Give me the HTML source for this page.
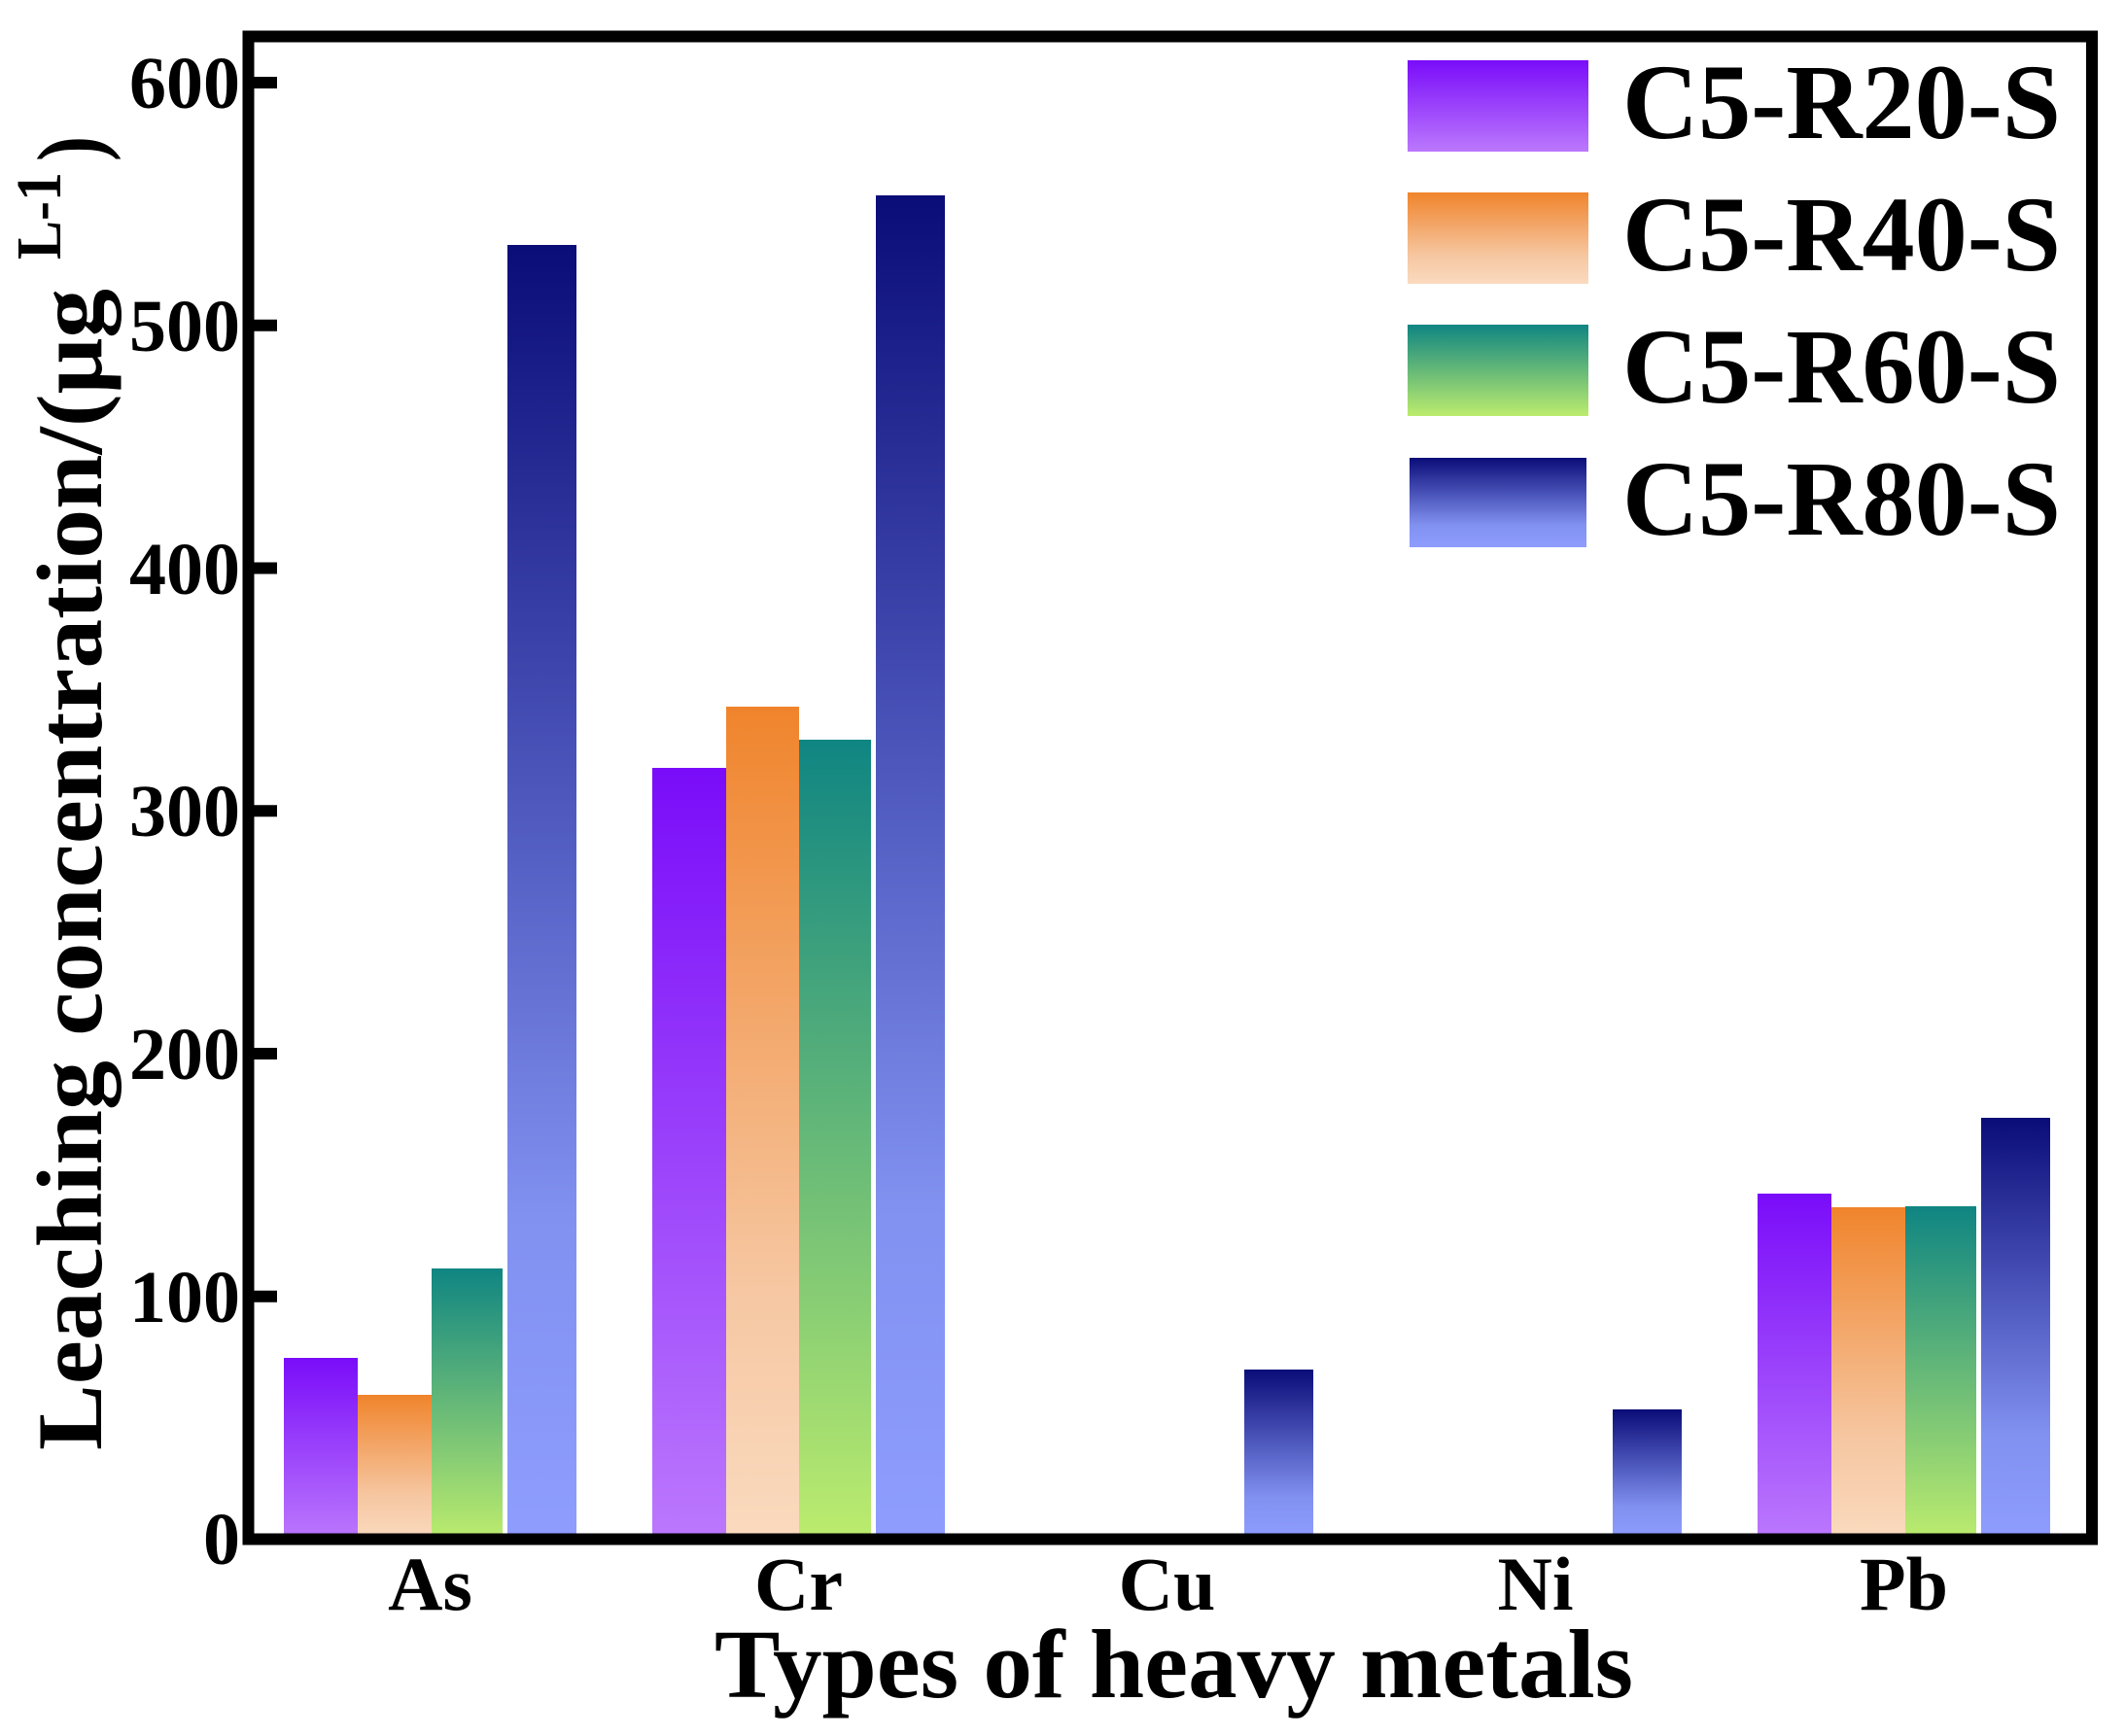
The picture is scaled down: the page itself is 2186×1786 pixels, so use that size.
<!DOCTYPE html>
<html><head><style>html,body{margin:0;padding:0;background:#fff}svg{display:block}</style></head><body>
<svg width="2186" height="1786" viewBox="0 0 2186 1786" xmlns="http://www.w3.org/2000/svg" font-family="Liberation Serif, serif" font-weight="bold">
<defs>
<linearGradient id="gP" x1="0" y1="0" x2="0" y2="1"><stop offset="0" stop-color="#7a0cf9"/><stop offset="1" stop-color="#bb78fd"/></linearGradient>
<linearGradient id="gO" x1="0" y1="0" x2="0" y2="1"><stop offset="0" stop-color="#f0842c"/><stop offset="0.7" stop-color="#f6c7a2"/><stop offset="1" stop-color="#fadabe"/></linearGradient>
<linearGradient id="gT" x1="0" y1="0" x2="0" y2="1"><stop offset="0" stop-color="#0f8582"/><stop offset="1" stop-color="#bcec6e"/></linearGradient>
<linearGradient id="gN" x1="0" y1="0" x2="0" y2="1"><stop offset="0" stop-color="#0a0c78"/><stop offset="0.75" stop-color="#8191f0"/><stop offset="1" stop-color="#8e9dfe"/></linearGradient>
</defs>
<g>
<rect x="292" y="1397" width="76" height="187" fill="url(#gP)"/>
<rect x="368" y="1435" width="76" height="149" fill="url(#gO)"/>
<rect x="444" y="1305" width="73" height="279" fill="url(#gT)"/>
<rect x="522" y="252" width="71" height="1332" fill="url(#gN)"/>
<rect x="671" y="790" width="76" height="794" fill="url(#gP)"/>
<rect x="747" y="727" width="75" height="857" fill="url(#gO)"/>
<rect x="822" y="761" width="74" height="823" fill="url(#gT)"/>
<rect x="901" y="201" width="71" height="1383" fill="url(#gN)"/>
<rect x="1280" y="1409" width="71" height="175" fill="url(#gN)"/>
<rect x="1659" y="1450" width="71" height="134" fill="url(#gN)"/>
<rect x="1808" y="1228" width="76" height="356" fill="url(#gP)"/>
<rect x="1884" y="1242" width="76" height="342" fill="url(#gO)"/>
<rect x="1960" y="1241" width="73" height="343" fill="url(#gT)"/>
<rect x="2038" y="1150" width="71" height="434" fill="url(#gN)"/>
</g>
<rect x="255.5" y="37.5" width="1896.5" height="1546" fill="none" stroke="#000" stroke-width="12"/>
<g stroke="#000" stroke-width="12">
<line x1="256" y1="1583.5" x2="285" y2="1583.5"/><line x1="256" y1="1333.75" x2="285" y2="1333.75"/>
<line x1="256" y1="1084" x2="285" y2="1084"/><line x1="256" y1="834.25" x2="285" y2="834.25"/>
<line x1="256" y1="584.5" x2="285" y2="584.5"/><line x1="256" y1="334.75" x2="285" y2="334.75"/>
<line x1="256" y1="85" x2="285" y2="85"/>
</g>
<g font-size="76" text-anchor="end">
<text x="247" y="1609">0</text><text x="247" y="1360">100</text><text x="247" y="1110">200</text>
<text x="247" y="860">300</text><text x="247" y="611">400</text><text x="247" y="361">500</text><text x="247" y="111">600</text>
</g>
<g font-size="78" text-anchor="middle">
<text x="442.5" y="1656">As</text><text x="821.5" y="1656">Cr</text><text x="1200.5" y="1656">Cu</text>
<text x="1579.5" y="1656">Ni</text><text x="1958.5" y="1656">Pb</text>
</g>
<text x="735" y="1746" font-size="101" textLength="945" lengthAdjust="spacingAndGlyphs">Types of heavy metals</text>
<text transform="translate(104,1492) rotate(-90)" font-size="95" textLength="1195" lengthAdjust="spacingAndGlyphs">Leaching concentration/(μg</text>
<text transform="translate(62,267) rotate(-90)" font-size="66" textLength="90" lengthAdjust="spacingAndGlyphs">L-1</text>
<text transform="translate(104,166) rotate(-90)" font-size="95" textLength="26" lengthAdjust="spacingAndGlyphs">)</text>
<rect x="1448" y="62" width="186" height="94" fill="url(#gP)"/>
<rect x="1448" y="198" width="186" height="94" fill="url(#gO)"/>
<rect x="1448" y="334" width="186" height="94" fill="url(#gT)"/>
<rect x="1450" y="471" width="182" height="92" fill="url(#gN)"/>
<g font-size="110">
<text x="1669" y="142" textLength="451" lengthAdjust="spacingAndGlyphs">C5-R20-S</text>
<text x="1669" y="278" textLength="451" lengthAdjust="spacingAndGlyphs">C5-R40-S</text>
<text x="1669" y="414" textLength="451" lengthAdjust="spacingAndGlyphs">C5-R60-S</text>
<text x="1669" y="550" textLength="451" lengthAdjust="spacingAndGlyphs">C5-R80-S</text>
</g>
</svg>
</body></html>
